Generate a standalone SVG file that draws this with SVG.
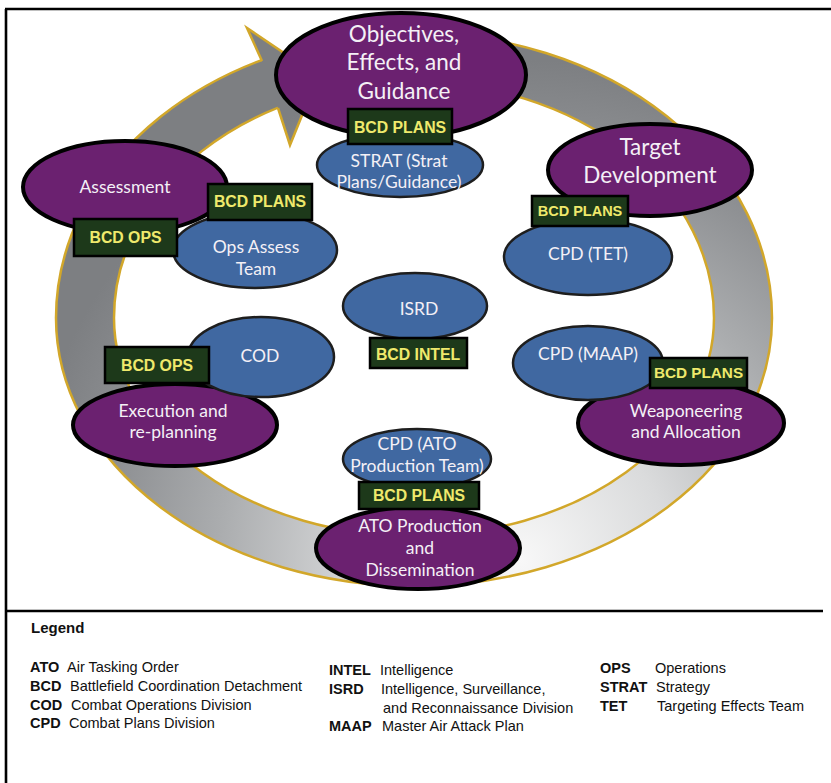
<svg xmlns="http://www.w3.org/2000/svg" width="831" height="783" viewBox="0 0 831 783">
<defs>
<radialGradient id="ringGrad" gradientUnits="userSpaceOnUse" cx="520" cy="560" r="500">
<stop offset="0" stop-color="#f8f8f8"/>
<stop offset="0.3" stop-color="#dadbdc"/>
<stop offset="0.6" stop-color="#abadaf"/>
<stop offset="0.85" stop-color="#8b8d90"/>
<stop offset="1" stop-color="#7d7f82"/>
</radialGradient>
<style>
.purple{fill:#6b2170;stroke:#000;stroke-width:4}
.blue{fill:#4068a1;stroke:#1e1e1e;stroke-width:2.5}
.lbl{font-family:Lato,"Open Sans",sans-serif;fill:#f4f0f6;text-anchor:middle}
.big{font-size:22.5px}
.sm{font-size:17.5px}
.bcd rect{fill:#1d391a;stroke:#000;stroke-width:2.5}
.bcd text{font-family:"Liberation Sans",Arial,sans-serif;font-weight:bold;font-size:15.8px;fill:#efe96c;text-anchor:middle}
.frame{stroke:#000;stroke-width:2.6;fill:none}
.lg{font-family:"Liberation Sans",Arial,sans-serif;font-size:14.5px;fill:#111}
.lg .b{font-weight:bold}
</style>
</defs>
<rect x="0" y="0" width="831" height="783" fill="#fff"/>
<g id="frame">
<line class="frame" x1="5" y1="9" x2="831" y2="9"/>
<line class="frame" x1="6" y1="9" x2="6" y2="783"/>
<line class="frame" x1="5" y1="611" x2="823" y2="611"/>
</g>
<g id="connectors">
<path d="M56,318 A358,285 0 0 1 772,318 A358,268 0 0 1 56,318 Z M114,318 A300,236 0 0 1 714,318 A300,218 0 0 1 114,318 Z" fill="url(#ringGrad)" fill-rule="evenodd" stroke="#d2a72a" stroke-width="2.5"/>
<polygon points="262,61 247,28 318,76 290,145 278,108" fill="url(#ringGrad)"/>
<polyline points="262,61 247,28 318,76 290,145 278,108" fill="none" stroke="#d2a72a" stroke-width="2.5" stroke-linejoin="miter"/>
</g>
<g id="objectives">
<ellipse class="purple" cx="401" cy="75" rx="125" ry="62"/>
<text class="lbl big" x="404" y="42">Objectives,</text>
<text class="lbl big" x="404" y="70">Effects, and</text>
<text class="lbl big" x="404" y="99">Guidance</text>
</g>
<g id="assessment">
<ellipse class="purple" cx="125" cy="187" rx="102" ry="46"/>
<text class="lbl sm" x="125" y="193">Assessment</text>
</g>
<g id="target">
<ellipse class="purple" cx="650" cy="170" rx="102" ry="46"/>
<text class="lbl big" x="650" y="155">Target</text>
<text class="lbl big" x="650" y="183">Development</text>
</g>
<g id="execution">
<ellipse class="purple" cx="175" cy="425" rx="102" ry="41"/>
<text class="lbl sm" x="173" y="417">Execution and</text>
<text class="lbl sm" x="173" y="438">re-planning</text>
</g>
<g id="weaponeering">
<ellipse class="purple" cx="681" cy="423" rx="103" ry="42"/>
<text class="lbl sm" x="686" y="417">Weaponeering</text>
<text class="lbl sm" x="686" y="438">and Allocation</text>
</g>
<g id="ato">
<ellipse class="purple" cx="418" cy="548" rx="102" ry="41"/>
<text class="lbl sm" x="420" y="532">ATO Production</text>
<text class="lbl sm" x="420" y="554">and</text>
<text class="lbl sm" x="420" y="576">Dissemination</text>
</g>
<g id="strat">
<ellipse class="blue" cx="400" cy="165" rx="83" ry="32"/>
<text class="lbl sm" x="399" y="167">STRAT (Strat</text>
<text class="lbl sm" x="399" y="188">Plans/Guidance)</text>
</g>
<g id="opsassess">
<ellipse class="blue" cx="255" cy="250" rx="82" ry="38"/>
<text class="lbl sm" x="256" y="253">Ops Assess</text>
<text class="lbl sm" x="256" y="275">Team</text>
</g>
<g id="tet">
<ellipse class="blue" cx="588" cy="257" rx="84" ry="38"/>
<text class="lbl sm" x="588" y="260">CPD (TET)</text>
</g>
<g id="isrd">
<ellipse class="blue" cx="415" cy="306" rx="72" ry="33"/>
<text class="lbl sm" x="419" y="315">ISRD</text>
</g>
<g id="cod">
<ellipse class="blue" cx="261" cy="357" rx="73" ry="40"/>
<text class="lbl sm" x="260" y="362">COD</text>
</g>
<g id="maap">
<ellipse class="blue" cx="588" cy="363" rx="75" ry="37"/>
<text class="lbl sm" x="588" y="360">CPD (MAAP)</text>
</g>
<g id="atoteam">
<ellipse class="blue" cx="417" cy="459" rx="74" ry="30"/>
<text class="lbl sm" x="417" y="450">CPD (ATO</text>
<text class="lbl sm" x="417" y="472">Production Team)</text>
</g>
<g id="bcd-obj" class="bcd"><rect x="348" y="109" width="104" height="35"/><text x="400" y="133">BCD PLANS</text></g>
<g id="bcd-assess-ops" class="bcd"><rect x="74" y="219" width="103" height="37"/><text x="125.5" y="243">BCD OPS</text></g>
<g id="bcd-assess-plans" class="bcd"><rect x="208" y="184" width="104" height="36"/><text x="260" y="207">BCD PLANS</text></g>
<g id="bcd-target" class="bcd"><rect x="532" y="196" width="96" height="30"/><text x="580" y="216" style="font-size:14.5px">BCD PLANS</text></g>
<g id="bcd-intel" class="bcd"><rect x="370" y="338" width="97" height="30"/><text x="418" y="360">BCD INTEL</text></g>
<g id="bcd-exec" class="bcd"><rect x="105" y="347" width="104" height="36"/><text x="157" y="371">BCD OPS</text></g>
<g id="bcd-weapon" class="bcd"><rect x="650" y="358" width="97" height="30"/><text x="698.5" y="378" style="font-size:15.3px">BCD PLANS</text></g>
<g id="bcd-ato" class="bcd"><rect x="359" y="482" width="120" height="27"/><text x="419" y="501">BCD PLANS</text></g>
<g id="legend" class="lg">
<text x="31" y="633" class="b" style="font-size:15px">Legend</text>
<text x="30" y="672" class="b">ATO</text><text x="67" y="672">Air Tasking Order</text>
<text x="30" y="691" class="b">BCD</text><text x="70" y="691">Battlefield Coordination Detachment</text>
<text x="30" y="710" class="b">COD</text><text x="71" y="710">Combat Operations Division</text>
<text x="30" y="728" class="b">CPD</text><text x="69" y="728">Combat Plans Division</text>
<text x="329" y="675" class="b">INTEL</text><text x="380" y="675">Intelligence</text>
<text x="329" y="694" class="b">ISRD</text><text x="381" y="694">Intelligence, Surveillance,</text>
<text x="383" y="713">and Reconnaissance Division</text>
<text x="329" y="731" class="b">MAAP</text><text x="382" y="731">Master Air Attack Plan</text>
<text x="600" y="673" class="b">OPS</text><text x="655" y="673">Operations</text>
<text x="600" y="692" class="b">STRAT</text><text x="656" y="692">Strategy</text>
<text x="600" y="711" class="b">TET</text><text x="657" y="711">Targeting Effects Team</text>
</g>
</svg>
